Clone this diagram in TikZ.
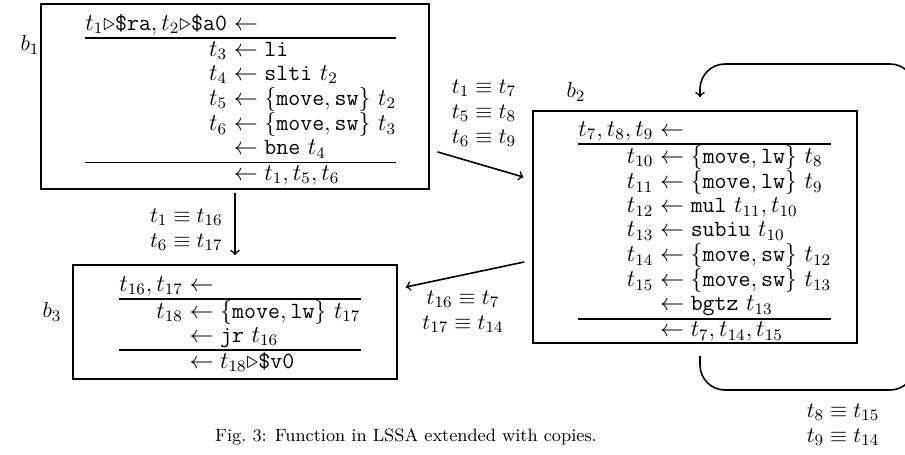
\documentclass[tikz,border=0pt]{standalone}
\usepackage{amsmath,amssymb}
\usetikzlibrary{calc}
\setlength{\arrayrulewidth}{0.9pt}
% block contents: a right-aligned target column and a left-aligned
% "<- operation" column, with rules after the entry and before the exit row
\newcommand{\la}{{}\leftarrow}
\newcommand{\tto}[1]{\texttt{#1}}
\begin{document}
\begin{tikzpicture}[x=0.5pt,y=-0.5pt,
  blockbox/.style={draw,line width=0.9pt,rectangle,inner sep=0pt},
  blockcode/.style={anchor=north west,inner sep=0pt,font=\fontsize{11.6}{12}\selectfont},
  blocklabel/.style={inner sep=0pt,font=\fontsize{11}{12}\selectfont},
  eqlabel/.style={align=center,inner sep=0pt,font=\fontsize{11}{12.5}\selectfont},
  flow/.style={->,line width=0.8pt}]
\useasboundingbox (0,0) rectangle (905,455);

% ---- block b1 ----
\node[blockbox,minimum width=194pt,minimum height=92.5pt] (b1box) at (235,96.5) {};
\node[blocklabel] (b1lab) at (30,45) {$b_1$};
\node[blockcode] (b1code) at (85,13) {$\begin{array}{@{}r@{}l@{}}
t_1{\triangleright}\tto{\$ra}, t_2{\triangleright}\tto{\$a0} & \la \\ \hline
t_3 & \la \tto{li} \\
t_4 & \la \tto{slti}\ t_2 \\
t_5 & \la \{\tto{move}, \tto{sw}\}\ t_2 \\
t_6 & \la \{\tto{move}, \tto{sw}\}\ t_3 \\
    & \la \tto{bne}\ t_4 \\ \hline
    & \la t_1, t_5, t_6
\end{array}$};

% ---- block b2 ----
\node[blockbox,minimum width=162pt,minimum height=116pt] (b2box) at (695,227) {};
\node[blocklabel] (b2lab) at (576,92) {$b_2$};
\node[blockcode] (b2code) at (578,119) {$\begin{array}{@{}r@{}l@{}}
t_7, t_8, t_9 & \la \\ \hline
t_{10} & \la \{\tto{move}, \tto{lw}\}\ t_8 \\
t_{11} & \la \{\tto{move}, \tto{lw}\}\ t_9 \\
t_{12} & \la \tto{mul}\ t_{11}, t_{10} \\
t_{13} & \la \tto{subiu}\ t_{10} \\
t_{14} & \la \{\tto{move}, \tto{sw}\}\ t_{12} \\
t_{15} & \la \{\tto{move}, \tto{sw}\}\ t_{13} \\
       & \la \tto{bgtz}\ t_{13} \\ \hline
       & \la t_7, t_{14}, t_{15}
\end{array}$};

% ---- block b3 ----
\node[blockbox,minimum width=162pt,minimum height=57pt] (b3box) at (235,322) {};
\node[blocklabel] (b3lab) at (52,312) {$b_3$};
\node[blockcode] (b3code) at (119,274) {$\begin{array}{@{}r@{}l@{}}
t_{16}, t_{17} & \la \\ \hline
t_{18} & \la \{\tto{move}, \tto{lw}\}\ t_{17} \\
       & \la \tto{jr}\ t_{16} \\ \hline
       & \la t_{18}{\triangleright}\tto{\$v0}
\end{array}$};

% ---- control flow with copy equivalences ----
\draw[flow,shorten <=1.5pt,shorten >=4.5pt]
  (b1box.south -| 235,0) -- (b3box.north -| 235,0);
\node[eqlabel,anchor=east] (e13) at (223,230) {$t_1\equiv t_{16}$\\$t_6\equiv t_{17}$};

\draw[flow,shorten <=4pt,shorten >=4.5pt]
  (b1box.east |- 0,149.7) -- (b2box.west |- 0,179.6);
\node[eqlabel] (e12) at (484,113) {$t_1\equiv t_7$\\$t_5\equiv t_8$\\$t_6\equiv t_9$};

\draw[flow,shorten <=4pt,shorten >=4pt]
  (b2box.west |- 0,260.3) -- (b3box.east |- 0,288.7);
\node[eqlabel] (e23) at (463,312) {$t_{16}\equiv t_7$\\$t_{17}\equiv t_{14}$};

% loop edge of b2, running round the right-hand side
\coordinate (loopout) at ($(b2box.south -| 700,0)+(0,12)$);
\coordinate (loopin) at ($(b2box.north -| 700,0)+(0,-13)$);
\draw[flow,rounded corners=12.5pt]
  (loopout) -- (700,390) -- (915,390) -- (915,64) -- (700,64) -- (loopin);
\node[eqlabel] (e22) at (843,425) {$t_8\equiv t_{15}$\\$t_9\equiv t_{14}$};

% ---- caption ----
\node[inner sep=0pt,font=\fontsize{8.9}{11}\selectfont] (cap) at (406,437)
  {Fig.~3: Function in LSSA extended with copies.};
\end{tikzpicture}
\end{document}
